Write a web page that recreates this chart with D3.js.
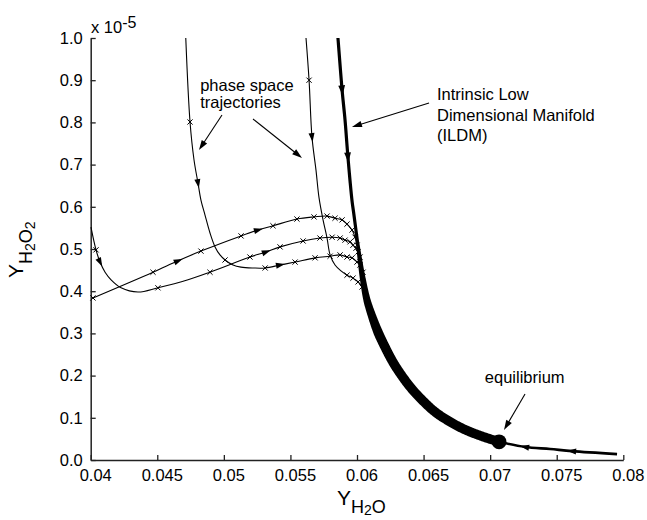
<!DOCTYPE html>
<html>
<head>
<meta charset="utf-8">
<script src="https://cdn.jsdelivr.net/npm/d3@7"></script>
<style>
body { margin: 0; background: #fff; }
text { font-family: "Liberation Sans", Arial, sans-serif; }
</style>
</head>
<body>
<div id="chart"></div>
<script>
var svgwidth = 647;
var svgheight = 520;
var margin = {top: 38, right: 23.7, bottom: 60, left: 90.7};
var width = svgwidth - margin.left - margin.right;
var height = svgheight - margin.top - margin.bottom;

// axis ticks
var xTicks = [0.04, 0.045, 0.05, 0.055, 0.06, 0.065, 0.07, 0.075, 0.08];
var xTickLabels = ["0.04", "0.045", "0.05", "0.055", "0.06", "0.065", "0.07", "0.075", "0.08"];
var yTicks = [0, 0.1, 0.2, 0.3, 0.4, 0.5, 0.6, 0.7, 0.8, 0.9, 1.0];
var yTickLabels = ["0.0", "0.1", "0.2", "0.3", "0.4", "0.5", "0.6", "0.7", "0.8", "0.9", "1.0"];

// ILDM (Y_H2O, Y_H2O2 x 1e5)
var manifold = [
  [0.05857, 1.0], [0.05888, 0.877], [0.0591, 0.806], [0.05932, 0.718], [0.05962, 0.616],
  [0.05977, 0.581], [0.05992, 0.545], [0.06007, 0.509], [0.06022, 0.474], [0.06045, 0.4265],
  [0.06075, 0.379], [0.06113, 0.341], [0.06158, 0.303], [0.0621, 0.268], [0.0627, 0.232],
  [0.06338, 0.199], [0.06413, 0.168], [0.06496, 0.140], [0.06586, 0.114], [0.06691, 0.092],
  [0.06804, 0.073], [0.06931, 0.057], [0.07067, 0.043], [0.07262, 0.031], [0.0745, 0.026],
  [0.07615, 0.021], [0.07953, 0.014]
];
var equilibrium = [0.07067, 0.043];

// trajectory coming from the top, left one
var trajT1 = [
  [0.04714, 1.0], [0.04746, 0.801], [0.04776, 0.711], [0.04806, 0.656], [0.04828, 0.616],
  [0.04858, 0.581], [0.04896, 0.538], [0.04934, 0.505], [0.04971, 0.486], [0.05009, 0.474],
  [0.05069, 0.462], [0.05129, 0.457], [0.0522, 0.455], [0.0531, 0.455], [0.05422, 0.462],
  [0.05535, 0.469], [0.05685, 0.479], [0.05798, 0.483], [0.05873, 0.486], [0.05925, 0.481],
  [0.05963, 0.479], [0.06, 0.469], [0.06022, 0.462], [0.06045, 0.445], [0.0606, 0.427]
];
var marksT1 = [
  [0.04746, 0.801], [0.05009, 0.474], [0.0531, 0.455], [0.05535, 0.469], [0.05685, 0.479],
  [0.05798, 0.483], [0.05873, 0.486], [0.05925, 0.481], [0.05963, 0.479], [0.06, 0.469],
  [0.06022, 0.462], [0.06045, 0.445]
];

// trajectory coming from the top, right one
var trajT2 = [
  [0.05617, 1.0], [0.0564, 0.900], [0.05662, 0.765], [0.05692, 0.687], [0.05715, 0.621],
  [0.05745, 0.569], [0.05775, 0.526], [0.05798, 0.486], [0.05835, 0.462], [0.0588, 0.448],
  [0.05925, 0.438], [0.0597, 0.431], [0.06008, 0.422], [0.06038, 0.410], [0.0606, 0.396]
];
var marksT2 = [
  [0.0564, 0.900], [0.05925, 0.438], [0.0597, 0.431], [0.06008, 0.422], [0.06038, 0.410]
];

// trajectory starting low on the left edge
var trajA = [
  [0.04017, 0.384], [0.04468, 0.445], [0.04656, 0.472], [0.04828, 0.495], [0.05129, 0.531],
  [0.05257, 0.545], [0.05369, 0.555], [0.05549, 0.571], [0.05677, 0.576], [0.05775, 0.578],
  [0.05835, 0.573], [0.05888, 0.569], [0.05925, 0.559], [0.05963, 0.545], [0.05985, 0.528],
  [0.06, 0.509], [0.06015, 0.491]
];
var marksA = [
  [0.04017, 0.384], [0.04468, 0.445], [0.04828, 0.495], [0.05129, 0.531], [0.05369, 0.555],
  [0.05549, 0.571], [0.05677, 0.576], [0.05775, 0.578], [0.05835, 0.573], [0.05888, 0.569],
  [0.05925, 0.559], [0.05963, 0.545], [0.05985, 0.528], [0.06, 0.509]
];

// trajectory starting high on the left edge
var trajB = [
  [0.04002, 0.552], [0.0404, 0.498], [0.0407, 0.469], [0.04108, 0.445], [0.04153, 0.427],
  [0.04228, 0.408], [0.04355, 0.398], [0.04505, 0.408], [0.04731, 0.427], [0.04896, 0.445],
  [0.05196, 0.481], [0.05317, 0.493], [0.05422, 0.505], [0.05595, 0.519], [0.05722, 0.526],
  [0.05813, 0.528], [0.05873, 0.526], [0.0591, 0.521], [0.05948, 0.517], [0.0597, 0.509],
  [0.05993, 0.502], [0.06008, 0.493], [0.06023, 0.481], [0.06038, 0.464]
];
var marksB = [
  [0.0404, 0.498], [0.04505, 0.408], [0.04896, 0.445], [0.05196, 0.481], [0.05422, 0.505],
  [0.05595, 0.519], [0.05722, 0.526], [0.05813, 0.528], [0.05873, 0.526], [0.0591, 0.521],
  [0.05948, 0.517], [0.0597, 0.509], [0.05993, 0.502], [0.06008, 0.493], [0.06023, 0.481]
];

var svg = d3.select("#chart").append("svg").attr("width", svgwidth).attr("height", svgheight);
var chartGroup = svg.append("g").attr("transform", `translate(${margin.left}, ${margin.top})`);

var xLinear = d3.scaleLinear().domain([0.04, 0.08]).range([0, width]);
var yLinear = d3.scaleLinear().domain([0, 1]).range([height, 0]);

var bottomAxis = d3.axisBottom(xLinear).tickValues(xTicks).tickFormat((d, i) => xTickLabels[i])
  .tickSizeInner(-5).tickSizeOuter(0).tickPadding(9.5);
var leftAxis = d3.axisLeft(yLinear).tickValues(yTicks).tickFormat((d, i) => yTickLabels[i])
  .tickSizeInner(-5).tickSizeOuter(0).tickPadding(8);

var gx = chartGroup.append("g").attr("transform", `translate(0, ${height})`).call(bottomAxis);
var gy = chartGroup.append("g").call(leftAxis);
[gx, gy].forEach(function(g) {
  g.attr("font-family", null).attr("font-size", null);
  g.select(".domain").attr("stroke", "#222").attr("stroke-width", 1.5);
  g.selectAll(".tick line").attr("stroke", "#222").attr("stroke-width", 1.3);
  g.selectAll(".tick text").attr("font-size", 16.5).attr("fill", "#000");
});
gx.selectAll(".tick text").attr("dx", 4.5);

var line = d3.line()
  .x(d => xLinear(d[0]))
  .y(d => yLinear(d[1]))
  .curve(d3.curveCatmullRom.alpha(0.5));

// thin trajectories
[trajT1, trajT2, trajA, trajB].forEach(function(t) {
  chartGroup.append("path").datum(t).attr("d", line)
    .attr("fill", "none").attr("stroke", "#000").attr("stroke-width", 1.1);
});

// x markers
var cross = "M-2.6,-2.6L2.6,2.6M-2.6,2.6L2.6,-2.6";
[marksT1, marksT2, marksA, marksB].forEach(function(m) {
  chartGroup.append("g").selectAll("path").data(m).enter().append("path")
    .attr("d", cross)
    .attr("transform", d => `translate(${xLinear(d[0])}, ${yLinear(d[1])})`)
    .attr("stroke", "#000").attr("stroke-width", 1).attr("fill", "none");
});

// manifold: a ribbon that widens where the trajectories bunch up
var eqIndex = 22;
function bandWidth(v) {
  if (v >= 0.52) return 3.2;
  if (v >= 0.30) return 3.2 + (0.52 - v) / 0.22 * 6.3;
  return 9.5;
}
var centre = chartGroup.append("path").datum(manifold.slice(0, eqIndex + 1)).attr("d", line)
  .attr("fill", "none").attr("stroke", "none");
var node = centre.node(), total = node.getTotalLength();
var sideL = [], sideR = [];
for (var s = 0; s <= total; s += 1) {
  var p = node.getPointAtLength(s);
  var pa = node.getPointAtLength(Math.max(0, s - 1.5));
  var pb = node.getPointAtLength(Math.min(total, s + 1.5));
  var dx = pb.x - pa.x, dy = pb.y - pa.y, n = Math.hypot(dx, dy) || 1;
  var w = bandWidth(yLinear.invert(p.y)) / 2;
  sideL.push([p.x - dy / n * w, p.y + dx / n * w]);
  sideR.push([p.x + dy / n * w, p.y - dx / n * w]);
}
chartGroup.append("path")
  .attr("d", "M" + sideL.join("L") + "L" + sideR.reverse().join("L") + "Z")
  .attr("fill", "#000");
chartGroup.append("path").datum(manifold.slice(eqIndex)).attr("d", line)
  .attr("fill", "none").attr("stroke", "#000").attr("stroke-width", 2.6);

chartGroup.append("circle")
  .attr("cx", xLinear(equilibrium[0])).attr("cy", yLinear(equilibrium[1]))
  .attr("r", 7.4).attr("fill", "#000");

// direction arrows on the curves
function headAt(px, py, ang, len, half) {
  chartGroup.append("path")
    .attr("d", `M${len * 0.55},0L${-len * 0.45},${-half}L${-len * 0.45},${half}Z`)
    .attr("transform", `translate(${px}, ${py}) rotate(${ang * 180 / Math.PI})`)
    .attr("fill", "#000");
}
var flowArrows = [
  [trajT1, 3, 1, 9, 3], [trajT2, 2, 1, 9, 3], [trajA, 2, 1, 9, 3], [trajA, 5, 1, 9, 3],
  [trajB, 2, 1, 9, 3], [trajB, 11, 1, 9, 3], [trajT1, 14, 1, 9, 3],
  [manifold, 1, 1, 10, 3.4], [manifold, 3, 1, 10, 3.4], [manifold, 23, -1, 9, 3], [manifold, 25, -1, 9, 3]
];
flowArrows.forEach(function(a) {
  var p = a[0][a[1]], q = a[0][a[1] + a[2]];
  var px = xLinear(p[0]), py = yLinear(p[1]);
  var ang = Math.atan2(yLinear(q[1]) - py, xLinear(q[0]) - px);
  headAt(px, py, ang, a[3], a[4]);
});

// annotations
function pointer(from, to) {
  var x1 = xLinear(from[0]), y1 = yLinear(from[1]);
  var x2 = xLinear(to[0]), y2 = yLinear(to[1]);
  var ang = Math.atan2(y2 - y1, x2 - x1);
  chartGroup.append("line").attr("x1", x1).attr("y1", y1)
    .attr("x2", x2 - 6 * Math.cos(ang)).attr("y2", y2 - 6 * Math.sin(ang))
    .attr("stroke", "#000").attr("stroke-width", 1.1);
  chartGroup.append("path").attr("d", "M0,0L-10,-3.2L-10,3.2Z")
    .attr("transform", `translate(${x2}, ${y2}) rotate(${ang * 180 / Math.PI})`)
    .attr("fill", "#000");
}
pointer([0.04986, 0.8175], [0.04813, 0.7346]);
pointer([0.05219, 0.808], [0.05587, 0.7156]);
pointer([0.06541, 0.846], [0.05962, 0.789]);
pointer([0.07262, 0.1564], [0.07104, 0.0711]);

function label(lines, at, gap) {
  var t = chartGroup.append("text").attr("x", xLinear(at[0])).attr("y", yLinear(at[1]))
    .attr("font-size", 16.5).attr("fill", "#000");
  lines.forEach(function(s, i) {
    t.append("tspan").attr("x", xLinear(at[0])).attr("dy", i === 0 ? 0 : gap).text(s);
  });
}
label(["phase space", "trajectories"], [0.04822, 0.874], 16.5);
label(["Intrinsic Low", "Dimensional Manifold", "(ILDM)"], [0.06601, 0.853], 20.5);
label(["equilibrium"], [0.0696, 0.1825], 0);

// scale factor
var sf = svg.append("text").attr("x", 91).attr("y", 33).attr("font-size", 16.5).attr("fill", "#000");
sf.append("tspan").text("x 10");
sf.append("tspan").attr("dy", -5.5).attr("font-size", 16).text("-5");

// axis titles
var xt = svg.append("text").attr("x", 337).attr("y", 505).attr("font-size", 21).attr("fill", "#000");
xt.append("tspan").text("Y");
xt.append("tspan").attr("dy", 8).attr("font-size", 18).text("H");
xt.append("tspan").attr("dy", 2).attr("font-size", 14).text("2");
xt.append("tspan").attr("dy", -2).attr("font-size", 18).text("O");

var yt = svg.append("text").attr("transform", "translate(23, 278) rotate(-90)")
  .attr("font-size", 21).attr("fill", "#000");
yt.append("tspan").text("Y");
yt.append("tspan").attr("dy", 9).attr("font-size", 18).text("H");
yt.append("tspan").attr("dy", 3).attr("font-size", 14).text("2");
yt.append("tspan").attr("dy", -3).attr("font-size", 18).text("O");
yt.append("tspan").attr("dy", 3).attr("font-size", 14).text("2");
</script>
</body>
</html>
